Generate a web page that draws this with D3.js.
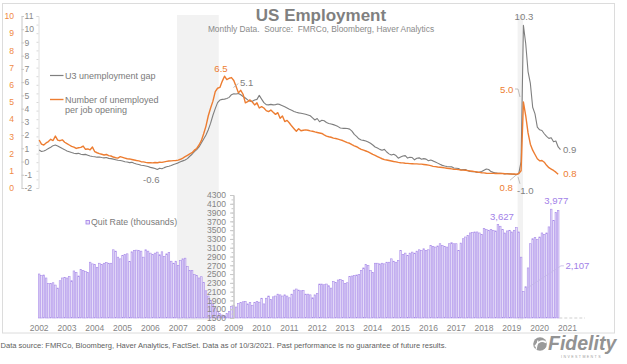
<!DOCTYPE html>
<html><head><meta charset="utf-8">
<script src="https://cdn.jsdelivr.net/npm/d3@7"></script>
<style>
html,body{margin:0;padding:0;background:#fff;}
svg{display:block;font-family:"Liberation Sans",Arial,sans-serif;}
</style></head><body>
<svg id="c" width="627" height="364"></svg>
<script>
// ---------- data ----------
const years = d3.range(2002, 2022);
const grayAxisTicks = d3.range(-2, 12);
const orangeAxisTicks = d3.range(0, 11);
const quitAxisTicks = d3.range(1500, 4301, 200);

// monthly, U3 unemployment gap (gray, right-hand scale -2..11)
const u3Gap = [
0.87,0.76,0.80,0.88,0.98,1.08,1.20,1.25,1.18,1.08,0.98,0.90,
0.80,0.74,0.68,0.63,0.60,0.62,0.55,0.52,0.54,0.48,0.42,0.38,
0.36,0.33,0.34,0.30,0.28,0.30,0.24,0.22,0.18,0.14,0.10,0.08,
0.04,-0.01,-0.04,-0.08,-0.06,-0.13,-0.18,-0.22,-0.28,-0.30,-0.34,-0.38,
-0.44,-0.48,-0.52,-0.60,-0.50,-0.55,-0.46,-0.40,-0.36,-0.30,-0.22,-0.16,
-0.10,-0.02,0.05,0.12,0.22,0.40,0.55,0.75,0.90,1.10,1.40,1.70,
2.00,2.40,2.90,3.50,4.00,4.45,4.65,4.70,4.72,4.76,4.85,5.05,
5.12,5.10,5.14,5.05,4.92,4.80,4.66,4.56,4.55,4.65,4.70,5.00,
4.72,4.45,4.30,4.28,4.32,4.28,4.30,4.35,4.30,4.22,4.14,4.05,
3.95,3.88,3.79,3.72,3.68,3.65,3.61,3.57,3.52,3.46,3.30,3.14,
3.25,3.01,3.12,3.08,2.95,2.88,2.84,2.79,2.72,2.64,2.54,2.51,
2.52,2.50,2.45,2.30,2.05,1.90,1.72,1.63,1.60,1.55,1.48,1.38,
1.25,1.10,1.02,0.92,0.85,0.92,0.72,0.58,0.49,0.55,0.45,0.25,
0.34,0.42,0.45,0.26,0.32,0.30,0.13,0.25,0.28,0.17,0.22,0.18,
0.06,0.11,0.05,-0.03,-0.12,-0.21,-0.29,-0.34,-0.38,-0.39,-0.40,-0.49,
-0.51,-0.53,-0.63,-0.60,-0.61,-0.69,-0.75,-0.77,-0.77,-0.82,-0.80,-0.76,
-0.66,-0.56,-0.60,-0.76,-0.82,-0.86,-0.89,-0.89,-0.91,-0.94,-0.90,-0.92,
-0.95,-0.97,-1.00,-0.90,0.00,10.3,8.9,6.8,5.9,4.1,3.6,2.6,
2.4,2.35,2.1,1.9,1.75,1.8,1.5,1.55,1.1,0.9
];

// monthly, number of unemployed per job opening (orange, left-hand scale 0..10)
const unemployedPerOpening = [
2.79,2.55,2.50,2.62,2.70,2.83,2.76,3.02,2.78,2.75,2.80,2.66,
2.58,2.50,2.42,2.38,2.30,2.34,2.36,2.44,2.25,2.27,2.22,2.38,
2.11,2.05,2.00,1.96,1.92,1.95,1.88,1.86,1.80,1.76,1.74,1.82,
1.78,1.74,1.70,1.69,1.66,1.63,1.60,1.58,1.53,1.52,1.49,1.47,
1.47,1.46,1.48,1.47,1.50,1.49,1.52,1.55,1.57,1.58,1.59,1.60,
1.62,1.67,1.74,1.82,1.90,1.98,2.05,2.20,2.30,2.50,2.75,3.15,
3.60,4.20,4.65,5.05,5.60,5.80,5.85,6.20,6.50,6.30,6.38,6.42,
6.25,5.90,5.53,5.68,5.45,4.95,5.02,5.12,5.00,4.83,4.95,4.65,
4.73,4.65,4.50,4.44,4.53,4.40,4.28,4.38,4.05,4.19,3.86,3.93,
3.78,3.60,3.45,3.30,3.45,3.33,3.36,3.38,3.36,3.32,3.30,3.26,
3.23,3.20,3.17,3.09,3.02,2.98,2.95,2.90,2.88,2.84,2.80,2.76,
2.70,2.64,2.60,2.52,2.45,2.40,2.32,2.25,2.20,2.15,2.10,2.03,
1.95,1.90,1.83,1.76,1.70,1.65,1.63,1.60,1.57,1.54,1.52,1.49,
1.47,1.46,1.44,1.43,1.42,1.41,1.40,1.40,1.39,1.39,1.37,1.35,
1.33,1.30,1.26,1.24,1.22,1.21,1.19,1.17,1.15,1.13,1.11,1.09,
1.08,1.07,1.05,1.04,1.03,1.01,0.99,0.97,0.95,0.93,0.91,0.89,
0.88,0.86,0.85,0.85,0.85,0.84,0.84,0.85,0.84,0.83,0.82,0.81,
0.81,0.81,0.80,0.84,1.00,5.00,4.20,3.20,2.55,2.20,1.95,1.70,
1.58,1.60,1.50,1.32,1.18,1.10,1.02,0.92,0.80
];

// monthly quits (thousands)
const quits = [
2502,2464,2479,2411,2288,2288,2303,2250,2181,2349,2411,2426,
2411,2441,2349,2571,2540,2456,2602,2579,2556,2533,2770,2732,
2716,2655,2747,2716,2747,2762,2747,2747,3053,3022,2885,2847,
2923,2946,2961,2785,3007,3038,3045,3038,3022,2885,3053,3022,
2977,2946,2977,3000,2940,3007,2900,2960,2990,2793,2747,2793,
2693,2808,2847,2862,2671,2579,2579,2487,2464,2411,2440,2311,
2120,2000,1900,1821,1730,1645,1600,1569,1546,1600,1645,1760,
1790,1750,1828,1850,1870,1880,1821,1850,1790,1850,1880,1860,
1950,1821,1950,2000,1920,1982,2000,2043,2027,2000,2027,2000,
1960,2043,2135,2160,2135,2120,2130,2043,2043,2027,1960,2027,
2058,2273,2273,2258,2273,2235,2181,2334,2311,2365,2380,2350,
2288,2303,2441,2456,2464,2479,2487,2579,2640,2716,2693,2579,
2540,2747,2747,2732,2747,2732,2770,2770,2847,2793,2770,2808,
3038,2946,2977,2923,2977,3000,2977,3022,3053,3038,3076,3038,
3053,3153,3130,3115,3140,3191,3153,3130,3115,3191,3214,3191,
3191,3038,3206,3305,3344,3382,3436,3451,3459,3459,3436,3405,
3535,3512,3497,3512,3497,3482,3627,3589,3512,3436,3482,3497,
3459,3497,3558,3459,2885,2107,2212,2640,3191,3305,3328,3283,
3344,3436,3405,3436,3574,3977,3720,3900,3950
];

// shaded recession periods (month index ranges)
const recessions = [[60, 78], [207, 209.3]];

// ---------- chart ----------
const svg = d3.select('#c');
const x = d3.scaleLinear().domain([0, 228]).range([38, 38 + 2.317 * 228]);
const step = x(1) - x(0);
const xc = i => x(i) + step / 2;
const yG = d3.scaleLinear().domain([-2, 11]).range([188, 16]);
const yO = d3.scaleLinear().domain([0, 10]).range([188, 16]);
const yQ = d3.scaleLinear().domain([1500, 4300]).range([318, 195]);

const GRAY = '#7f7f7f', ORANGE = '#ED7D31', PURPLE = '#a27fe8';

// frame
svg.append('rect').attr('x', 2.5).attr('y', 3.5).attr('width', 612).attr('height', 329.5)
  .attr('fill', 'none').attr('stroke', '#dcdcdc');

// recession shading
svg.append('g').selectAll('rect').data(recessions).join('rect')
  .attr('x', d => x(d[0])).attr('width', d => x(d[1]) - x(d[0]))
  .attr('y', 15).attr('height', 305).attr('fill', '#f2f2f2');

// title
svg.append('text').attr('x', 321).attr('y', 20.5).attr('text-anchor', 'middle')
  .attr('font-size', 17).attr('font-weight', 'bold').attr('fill', '#808080').text('US Employment');
svg.append('text').attr('x', 321).attr('y', 32).attr('text-anchor', 'middle')
  .attr('font-size', 8.4).attr('fill', '#8a8a8a').style('white-space', 'pre')
  .text('Monthly Data.  Source:  FMRCo, Bloomberg, Haver Analytics');

// bars
svg.append('g').selectAll('rect').data(quits).join('rect')
  .attr('x', (d, i) => x(i) + 0.35).attr('width', step - 0.7)
  .attr('y', d => yQ(d)).attr('height', d => yQ(1500) - yQ(d))
  .attr('fill', '#e7dff8').attr('stroke', '#a98ce9').attr('stroke-width', 0.6);

// baseline dashes to the right
svg.append('line').attr('x1', x(225)).attr('x2', 585).attr('y1', 318).attr('y2', 318)
  .attr('stroke', '#cfcfcf').attr('stroke-dasharray', '3,2');

function styleAxis(g, col, fs) {
  g.select('.domain').attr('stroke', '#c8c8c8');
  g.selectAll('.tick line').attr('stroke', '#c8c8c8');
  g.selectAll('.tick text').attr('fill', col).attr('font-size', fs)
    .attr('font-family', '"Liberation Sans",Arial,sans-serif');
}

// quits axis
svg.append('g').attr('transform', 'translate(233.5,0)')
  .call(d3.axisLeft(yQ).tickValues(d3.range(1500, 4301, 100)).tickSize(2).tickFormat(''))
  .call(g => styleAxis(g, '#888', 8.5));
svg.append('g').attr('transform', 'translate(233.5,0)')
  .call(d3.axisLeft(yQ).tickValues(quitAxisTicks).tickSize(3.5).tickPadding(4).tickFormat(d3.format('d')))
  .call(g => styleAxis(g, '#858585', 8.5));

// gray axis
svg.append('g').attr('transform', 'translate(21.5,0)')
  .call(d3.axisRight(yG).tickValues(grayAxisTicks).tickSize(2.5).tickPadding(0.5).tickFormat(d => String(d)))
  .call(g => styleAxis(g, '#8a8a8a', 8.6));
// orange axis labels
svg.append('g').attr('transform', 'translate(15,0)')
  .call(d3.axisLeft(yO).tickValues(orangeAxisTicks).tickSize(0).tickPadding(1).tickFormat(d => String(d)))
  .call(g => { styleAxis(g, '#F08A45', 8.6); g.select('.domain').remove(); });
// minor axis at plot edge
svg.append('g').attr('transform', 'translate(38.5,0)')
  .call(d3.axisLeft(yO).tickValues(d3.range(0, 10.01, 0.5)).tickSize(2).tickFormat(''))
  .call(g => { g.select('.domain').attr('stroke', '#e0e0e0'); g.selectAll('.tick line').attr('stroke', '#d8d8d8'); });

// x labels
svg.append('g').selectAll('text').data(years).join('text')
  .attr('x', d => x((d - 2002) * 12 + 0.5)).attr('y', 330.5).attr('text-anchor', 'middle')
  .attr('font-size', 8.5).attr('fill', '#858585').text(d => d);

// lines
svg.append('path').datum(u3Gap)
  .attr('d', d3.line().x((d, i) => xc(i)).y(d => yG(d)))
  .attr('fill', 'none').attr('stroke', GRAY).attr('stroke-width', 1.1).attr('stroke-linejoin', 'round');
svg.append('path').datum(unemployedPerOpening)
  .attr('d', d3.line().x((d, i) => xc(i)).y(d => yO(d)))
  .attr('fill', 'none').attr('stroke', ORANGE).attr('stroke-width', 1.4).attr('stroke-linejoin', 'round');

// legends
const lg = svg.append('g').attr('font-size', 9).attr('fill', '#7a7a7a');
lg.append('line').attr('x1', 50).attr('x2', 63.5).attr('y1', 75.5).attr('y2', 75.5).attr('stroke', GRAY).attr('stroke-width', 1.2);
lg.append('text').attr('x', 65).attr('y', 78.5).text('U3 unemployment gap');
lg.append('line').attr('x1', 50).attr('x2', 63.5).attr('y1', 99.5).attr('y2', 99.5).attr('stroke', ORANGE).attr('stroke-width', 1.4);
lg.append('text').attr('x', 65).attr('y', 103).text('Number of unemployed');
lg.append('text').attr('x', 65).attr('y', 112.5).text('per job opening');
lg.append('rect').attr('x', 86).attr('y', 220.5).attr('width', 3.5).attr('height', 3.5)
  .attr('fill', '#e7dff8').attr('stroke', PURPLE).attr('stroke-width', 0.8);
lg.append('text').attr('x', 91).attr('y', 225.3).attr('font-size', 8.8).text('Quit Rate (thousands)');

// annotations
const fmt1 = v => v.toFixed(1);
const ann = svg.append('g').attr('font-size', 9.6);
function label(txt, px, py, col, anchor) {
  ann.append('text').attr('x', px).attr('y', py).attr('fill', col)
    .attr('text-anchor', anchor || 'start').text(txt);
}
function leader(pts, col) {
  ann.append('path').attr('d', d3.line()(pts)).attr('fill', 'none')
    .attr('stroke', col || '#b0b0b0').attr('stroke-width', 0.8);
}
// 2009 peaks
{ const i = 80, ax = xc(i), ay = yO(unemployedPerOpening[i]);
  label(fmt1(unemployedPerOpening[i]), ax - 3.5, ay - 4.5, ORANGE, 'middle'); }
{ const i = 86, ax = xc(i), ay = yG(u3Gap[i]);
  leader([[ax - 5, ay - 6], [ax, ay - 10]]);
  label(fmt1(u3Gap[i]), ax + 1.5, ay - 7.5, GRAY); }
// 2006 low
{ const i = 51, ax = xc(i), ay = yG(u3Gap[i]);
  label(fmt1(u3Gap[i]), ax - 6, ay + 13.5, GRAY, 'middle'); }
// Covid peaks
{ const i = 209, ax = xc(i), ay = yG(u3Gap[i]);
  label(fmt1(u3Gap[i]), ax + 0.5, ay - 5.5, GRAY, 'middle'); }
{ const i = 209, ax = xc(i), ay = yO(unemployedPerOpening[i]);
  leader([[ax - 8.4, ay - 13], [ax - 5.4, ay - 13], [ax - 3.4, ay - 5]]);
  label(fmt1(unemployedPerOpening[i]), ax - 10, ay - 9, ORANGE, 'end'); }
// pre-Covid lows
{ const i = 206, ax = xc(i), ay = yO(unemployedPerOpening[i]);
  leader([[ax - 6.5, ay + 6], [ax - 0.5, ay + 1]]);
  label(fmt1(unemployedPerOpening[i]), ax - 3.5, ay + 17, ORANGE, 'end'); }
{ const i = 206, ax = xc(i), ay = yG(u3Gap[i]);
  leader([[ax + 1.5, ay + 2], [ax + 3.5, ay + 9]]);
  label(fmt1(u3Gap[i]), ax + 0.5, ay + 19, GRAY); }
// end values
{ const i = u3Gap.length - 1, ax = xc(i), ay = yG(u3Gap[i]);
  label(fmt1(u3Gap[i]), ax + 2.5, ay + 3.5, GRAY); }
{ const i = unemployedPerOpening.length - 1, ax = xc(i), ay = yO(unemployedPerOpening[i]);
  label(fmt1(unemployedPerOpening[i]), ax + 5, ay + 3, ORANGE); }
// quits
const fmtK = d3.format(',');
{ const i = 198, ax = xc(i), ay = yQ(quits[i]);
  label(fmtK(quits[i]), ax + 4, ay - 4.5, PURPLE, 'middle'); }
{ const i = 221, ax = xc(i), ay = yQ(quits[i]);
  label(fmtK(quits[i]), ax + 5, ay - 5, PURPLE, 'middle'); }
{ const i = 209, ax = xc(i), ay = yQ(quits[i]);
  leader([[ax + 3.5, ay - 3], [ax + 37.5, ay - 25.5], [ax + 40.5, ay - 25.5]], '#c3b6e6');
  label(fmtK(quits[i]), ax + 42, ay - 22.5, PURPLE); }

// footer
svg.append('text').attr('x', 0.5).attr('y', 347.5).attr('font-size', 8).attr('fill', '#606060')
  .attr('textLength', 446).attr('lengthAdjust', 'spacingAndGlyphs')
  .text('Data source: FMRCo, Bloomberg, Haver Analytics, FactSet. Data as of 10/3/2021. Past performance is no guarantee of future results.');

// Fidelity logo
const logo = svg.append('g');
logo.append('circle').attr('cx', 540).attr('cy', 344).attr('r', 6.8).attr('fill', '#9a9a9a');
logo.append('path').attr('d', 'M535,346.5 Q540,338.5 546,342.5').attr('fill', 'none').attr('stroke', '#fff').attr('stroke-width', 1.6);
logo.append('path').attr('d', 'M536,349.5 L538,340.5').attr('fill', 'none').attr('stroke', '#fff').attr('stroke-width', 1.2);
logo.append('text').attr('x', 548).attr('y', 349.5).attr('font-size', 19.5).attr('font-weight', 'bold')
  .attr('font-style', 'italic').attr('fill', '#939393').text('Fidelity');
logo.append('text').attr('x', 561).attr('y', 358).attr('font-size', 3.6).attr('letter-spacing', 1.4)
  .attr('fill', '#a0a0a0').text('INVESTMENTS');
</script>
</body></html>
